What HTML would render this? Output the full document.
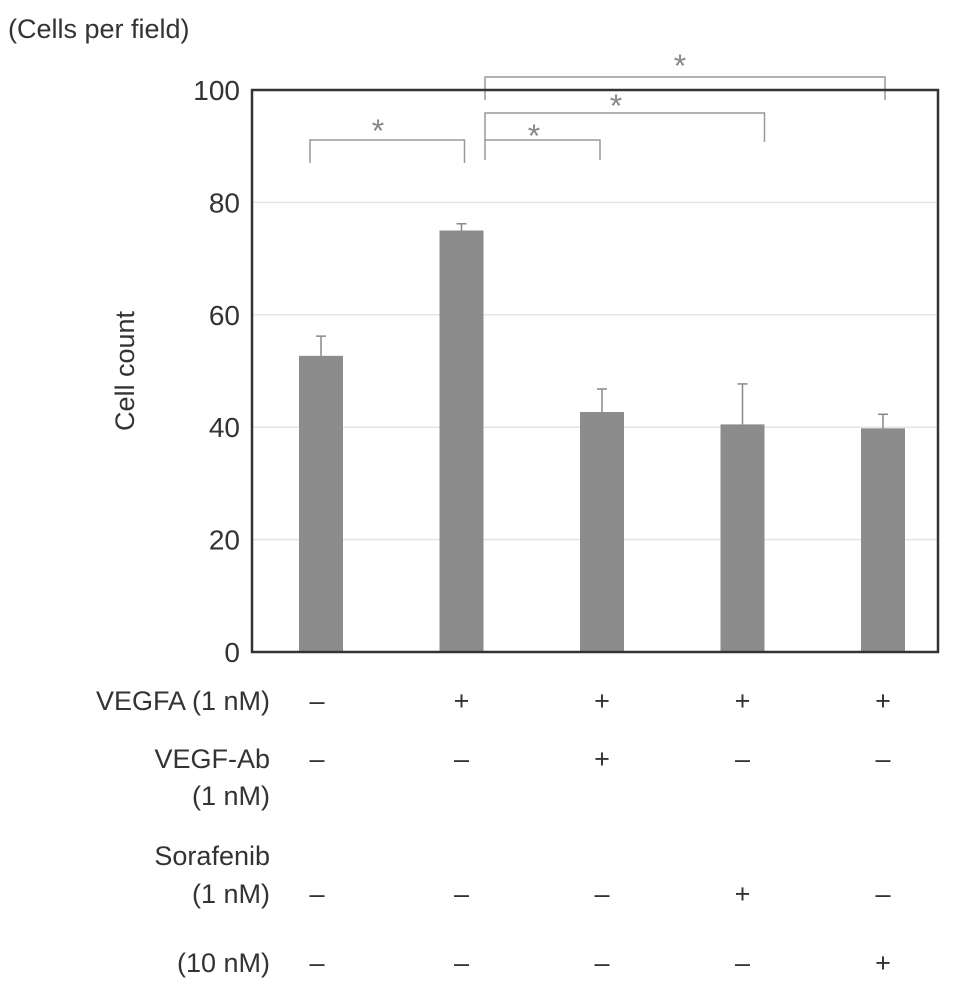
<!DOCTYPE html>
<html><head><meta charset="utf-8"><style>
body{margin:0;background:#fff;}
svg text{font-family:"Liberation Sans",sans-serif;fill:#333;}
</style></head><body>
<svg id="c" width="969" height="985" viewBox="0 0 969 985">
<text x="8" y="38" font-size="27">(Cells per field)</text>
<text x="0" y="0" font-size="27" transform="translate(134,371) rotate(-90)" text-anchor="middle">Cell count</text>
<g id="grid"></g><g id="bars"></g><g id="sig"></g><g id="ticks"></g>
<rect x="252" y="90" width="686" height="562" fill="none" stroke="#333" stroke-width="2.5"/>
<g id="tbl"></g>
</svg>
<script>
const categories=["Control","VEGFA","VEGFA+VEGF-Ab","VEGFA+Sorafenib 1nM","VEGFA+Sorafenib 10nM"];
const values=[52.7,75.0,42.7,40.5,39.8];
const errors=[3.5,1.2,4.1,7.2,2.5];
const yTicks=[0,20,40,60,80,100];
const rowLabels=[["VEGFA (1 nM)"],["VEGF-Ab","(1 nM)"],["Sorafenib","(1 nM)"],["(10 nM)"]];
const rowSigns=[["–","+","+","+","+"],["–","–","+","–","–"],["–","–","–","+","–"],["–","–","–","–","+"]];
const sigPairs=[[0,1],[1,2],[1,3],[1,4]];
const NS="http://www.w3.org/2000/svg";
const x0=252,x1=938,yTop=90,yBot=652;
const y=v=>yBot-(v/100)*(yBot-yTop);
const xc=i=>321+i*140.5;
function el(t,a,p){const e=document.createElementNS(NS,t);for(const k in a)e.setAttribute(k,a[k]);document.getElementById(p).appendChild(e);return e;}
yTicks.forEach(t=>{
 if(t>0&&t<100){const g=el('line',{x1:x0,x2:x1,y1:y(t),y2:y(t),stroke:'#e4e4e4','stroke-width':1.5},'grid');
 
 }
 const tx=el('text',{x:240,y:y(t)+10,'font-size':28,'text-anchor':'end'},'ticks');tx.textContent=t;
 
 
});
values.forEach((v,i)=>{
 const e=el('line',{x1:xc(i),x2:xc(i),y1:y(v),y2:y(v+errors[i]),stroke:'#888','stroke-width':1.5},'bars');
 
 
 const c=el('line',{x1:xc(i)-5,x2:xc(i)+5,y1:y(v+errors[i]),y2:y(v+errors[i]),stroke:'#888','stroke-width':1.5},'bars');
 
 
 const r=el('rect',{x:xc(i)-22,y:y(v),width:44,height:yBot-y(v),fill:'#8c8c8c'},'bars');
 
 
});
const sigY=[140,140,113,77],sigB=[163,160,142,100],rOff=[3,-2,22,2],starX=[378,534,616,680],starDy=[2,7,4,0];
sigPairs.forEach((p,k)=>{
 const a=p[0]===1?485:xc(p[0])-11,b=xc(p[1])+rOff[k];
 const pa=el('path',{d:`M${a},${sigB[k]}V${sigY[k]}H${b}V${sigB[k]}`,fill:'none',stroke:'#999','stroke-width':1.5},'sig');
 
 
 const t=el('text',{x:starX[k],y:sigY[k]+starDy[k],'font-size':32,'text-anchor':'middle'},'sig');t.textContent='*';t.style.fill='#888';
 
 
});
const rowY=[[700],[758,795],[855,893],[962]];
rowLabels.forEach((ls,r)=>{
 ls.forEach((l,j)=>{const t=el('text',{x:270,y:rowY[r][j]+10,'font-size':27,'text-anchor':'end'},'tbl');t.textContent=l;
 
 });
 const sy=r===2?rowY[r][1]:rowY[r][0];
 rowSigns[r].forEach((s,i)=>{const t=el('text',{x:xc(i)-(i==0?4:0),y:sy+10,'font-size':27,'text-anchor':'middle'},'tbl');t.textContent=s;
 
 });
});
</script>
</body></html>
